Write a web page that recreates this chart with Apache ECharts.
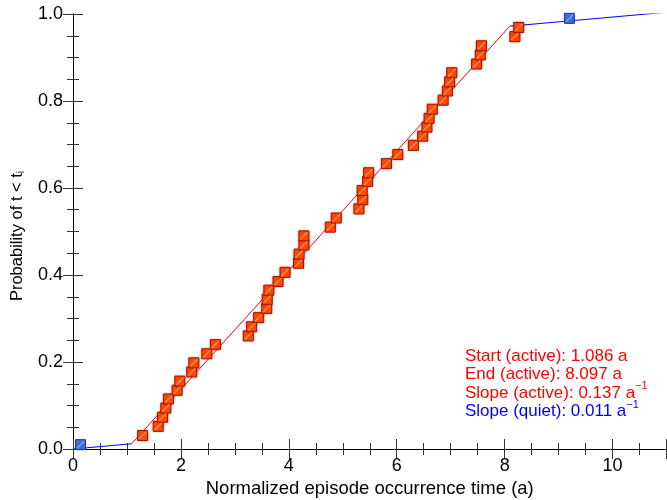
<!DOCTYPE html>
<html>
<head>
<meta charset="utf-8">
<script src="https://cdn.jsdelivr.net/npm/echarts@6/dist/echarts.min.js"></script>
<style>
  html, body { margin: 0; padding: 0; background: #fff; }
  #main { width: 667px; height: 500px; }
</style>
</head>
<body>
<div id="main"></div>
<script>
// episode times (a) and cumulative probability, active part
var activeTimes = [1.29, 1.58, 1.66, 1.72, 1.77, 1.93, 1.98, 2.20, 2.24, 2.48, 2.64,
  3.25, 3.31, 3.44, 3.59, 3.60, 3.63, 3.80, 3.93, 4.18, 4.19, 4.28, 4.28,
  4.77, 4.88, 5.30, 5.37, 5.36, 5.46, 5.48, 5.81, 6.02, 6.31, 6.48, 6.56,
  6.60, 6.66, 6.86, 6.94, 6.98, 7.02, 7.48, 7.55, 7.57, 8.19, 8.26];
var activeProb = [0.031, 0.052, 0.073, 0.094, 0.115, 0.135, 0.156, 0.177, 0.198, 0.219, 0.240,
  0.260, 0.281, 0.302, 0.323, 0.344, 0.365, 0.385, 0.406, 0.427, 0.448, 0.469, 0.490,
  0.510, 0.531, 0.552, 0.573, 0.594, 0.615, 0.635, 0.656, 0.677, 0.698, 0.719, 0.740,
  0.760, 0.781, 0.802, 0.823, 0.844, 0.865, 0.885, 0.906, 0.927, 0.948, 0.969];
// quiet part
var quietTimes = [0.14, 9.20];
var quietProb = [0.010, 0.990];
// fitted lines
var activeFit = [[1.086, 0.012], [8.097, 0.972]];
var quietFit1 = [[0, 0], [1.086, 0.012]];
var quietFit2 = [[8.097, 0.972], [11, 1.004]];

var xTicks = [0, 2, 4, 6, 8, 10];

function zip(a, b) { return a.map(function (v, i) { return [v, b[i]]; }); }

var chart = echarts.init(document.getElementById('main'));
var font = 'Liberation Sans, Arial, sans-serif';

var axisCommon = {
  axisLine: { show: true, lineStyle: { color: '#000', width: 1 } },
  axisTick: { show: true, inside: true, length: 10, lineStyle: { color: '#333' } },
  minorTick: { show: true, splitNumber: 4, length: 6, lineStyle: { color: '#333' } },
  splitLine: { show: false }
};

// small diagonal highlight drawn on top of each square
var glint = 'path://M0,9 L9,0 L10,1 L1,10 Z';

var option = {
  animation: false,
  backgroundColor: '#fff',
  grid: { left: 73, top: 14, right: 0.5, bottom: 51, outerBoundsMode: 'none', containLabel: false },
  xAxis: [
    Object.assign({}, axisCommon, {
      type: 'value', min: 0, max: 11, interval: 2,
      name: 'Normalized episode occurrence time (a)', nameLocation: 'middle', nameGap: 28,
      nameTextStyle: { fontFamily: font, fontSize: 18.5, color: '#000' },
      axisLabel: { fontFamily: font, fontSize: 18, color: '#000', margin: 8,
        formatter: function (v) { return xTicks.indexOf(v) >= 0 ? String(v) : ''; } }
    }),
    Object.assign({}, axisCommon, {
      type: 'value', min: 0, max: 11, interval: 2, position: 'top',
      axisLabel: { show: false }
    })
  ],
  yAxis: [
    Object.assign({}, axisCommon, {
      type: 'value', min: 0, max: 1, interval: 0.2,
      axisLabel: { fontFamily: font, fontSize: 18, color: '#000', margin: 10,
        formatter: function (v) { return v.toFixed(1); } }
    }),
    Object.assign({}, axisCommon, {
      type: 'value', min: 0, max: 1, interval: 0.2, position: 'right',
      axisLabel: { show: false }
    })
  ],
  graphic: [
    {
      type: 'text', x: 17, y: 236, rotation: Math.PI / 2,
      style: {
        text: '{m|Probability of t < t}{s|i}',
        align: 'center', verticalAlign: 'middle',
        rich: {
          m: { fontFamily: font, fontSize: 16.5, fill: '#000' },
          s: { fontFamily: font, fontSize: 10, fill: '#000', padding: [8, 0, 0, 0] }
        }
      }
    },
    {
      type: 'text', left: 465, top: 347,
      style: {
        text: '{r|Start (active): 1.086 a}\n{r|End (active): 8.097 a}\n{r|Slope (active): 0.137 a}{rs|−1}\n{b|Slope (quiet): 0.011 a}{bs|−1}',
        lineHeight: 18.5,
        rich: {
          r: { fontFamily: font, fontSize: 17, fill: '#ff0000', lineHeight: 18.5 },
          rs: { fontFamily: font, fontSize: 11, fill: '#ff0000', padding: [0, 0, 14, 0], lineHeight: 18.5 },
          b: { fontFamily: font, fontSize: 17, fill: '#0000ff', lineHeight: 18.5 },
          bs: { fontFamily: font, fontSize: 11, fill: '#0000ff', padding: [0, 0, 14, 0], lineHeight: 18.5 }
        }
      }
    }
  ],
  series: [
    { type: 'line', data: quietFit1, symbol: 'none', clip: true,
      lineStyle: { color: '#0000ff', width: 1 }, z: 2 },
    { type: 'line', data: quietFit2, symbol: 'none', clip: true,
      lineStyle: { color: '#0000ff', width: 1 }, z: 2 },
    { type: 'line', data: activeFit, symbol: 'none', clip: true,
      lineStyle: { color: '#ff0000', width: 1 }, z: 2 },
    { type: 'scatter', data: zip(activeTimes, activeProb), symbol: 'rect', symbolSize: 10, z: 3,
      itemStyle: { color: '#ff4a00', borderColor: '#a81400', borderWidth: 1, opacity: 1,
        shadowColor: 'rgba(180,40,40,0.45)', shadowBlur: 2 } },
    { type: 'scatter', data: zip(activeTimes, activeProb), symbol: glint, symbolSize: 8, z: 4,
      silent: true, itemStyle: { color: 'rgba(255,170,110,0.85)', opacity: 1 } },
    { type: 'scatter', data: zip(quietTimes, quietProb), symbol: 'rect', symbolSize: 10, z: 3,
      clip: false,
      itemStyle: { color: '#3a6be0', borderColor: '#1a2f9a', borderWidth: 1, opacity: 1 } },
    { type: 'scatter', data: zip(quietTimes, quietProb), symbol: glint, symbolSize: 8, z: 4,
      clip: false, silent: true, itemStyle: { color: 'rgba(150,180,255,0.85)', opacity: 1 } }
  ]
};
chart.setOption(option);
</script>
</body>
</html>
